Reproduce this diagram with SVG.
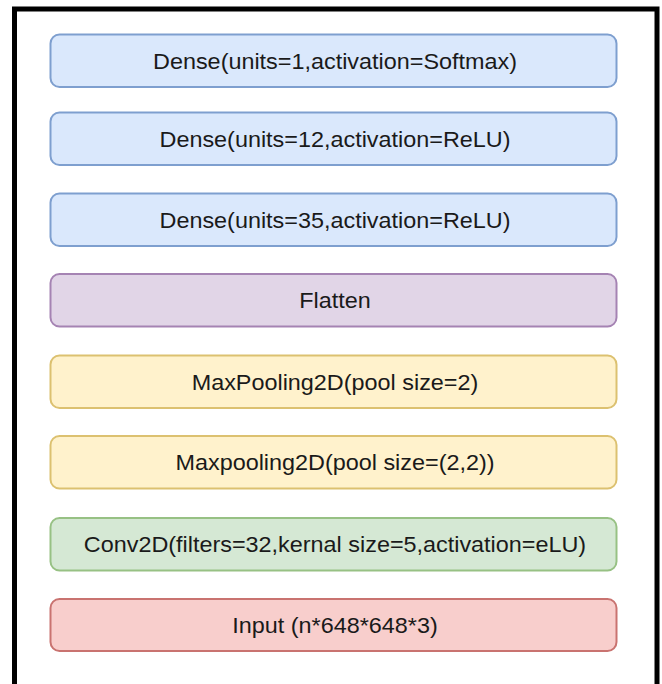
<svg xmlns="http://www.w3.org/2000/svg" width="662" height="684" viewBox="0 0 662 684">
  <style>
    .box { stroke-width: 2; }
    .blue { fill: #dae8fc; stroke: #7e9fcf; }
    .purple { fill: #e1d5e7; stroke: #a583b3; }
    .yellow { fill: #fff2cc; stroke: #dcc170; }
    .green { fill: #d5e8d4; stroke: #97c184; }
    .red { fill: #f8cecc; stroke: #c97370; }
    .label { font-family: "Liberation Sans", Arial, sans-serif; font-size: 22.5px; fill: #1a1a1a; text-anchor: middle; }
  </style>
  <rect width="662" height="684" fill="#ffffff"/>
  <!-- outer frame -->
  <rect x="14.5" y="9" width="642.5" height="700" fill="none" stroke="#000000" stroke-width="5"/>
  <g id="connectors"></g>
  <g id="dense-softmax">
    <rect class="box blue" x="50.5" y="34.5" width="566" height="52.5" rx="9"/>
    <text class="label" x="335" y="69" transform="matrix(1.04 0 0 1 -13.4 0)">Dense(units=1,activation=Softmax)</text>
  </g>
  <g id="dense-12">
    <rect class="box blue" x="50.5" y="112.5" width="566" height="52.5" rx="9"/>
    <text class="label" x="335" y="147" transform="matrix(1.04 0 0 1 -13.4 0)">Dense(units=12,activation=ReLU)</text>
  </g>
  <g id="dense-35">
    <rect class="box blue" x="50.5" y="193.5" width="566" height="52.5" rx="9"/>
    <text class="label" x="335" y="228" transform="matrix(1.04 0 0 1 -13.4 0)">Dense(units=35,activation=ReLU)</text>
  </g>
  <g id="flatten">
    <rect class="box purple" x="50.5" y="274" width="566" height="52.5" rx="9"/>
    <text class="label" x="335" y="308.5" transform="matrix(1.04 0 0 1 -13.4 0)">Flatten</text>
  </g>
  <g id="maxpool-2">
    <rect class="box yellow" x="50.5" y="355.5" width="566" height="52.5" rx="9"/>
    <text class="label" x="335" y="390" transform="matrix(1.04 0 0 1 -13.4 0)">MaxPooling2D(pool size=2)</text>
  </g>
  <g id="maxpool-2x2">
    <rect class="box yellow" x="50.5" y="436" width="566" height="52.5" rx="9"/>
    <text class="label" x="335" y="470.5" transform="matrix(1.04 0 0 1 -13.4 0)">Maxpooling2D(pool size=(2,2))</text>
  </g>
  <g id="conv2d">
    <rect class="box green" x="50.5" y="518" width="566" height="52.5" rx="9"/>
    <text class="label" x="335" y="552.5" transform="matrix(1.04 0 0 1 -13.4 0)">Conv2D(filters=32,kernal size=5,activation=eLU)</text>
  </g>
  <g id="input">
    <rect class="box red" x="50.5" y="599" width="566" height="52" rx="9"/>
    <text class="label" x="335" y="633.5" transform="matrix(1.04 0 0 1 -13.4 0)">Input (n*648*648*3)</text>
  </g>
</svg>
